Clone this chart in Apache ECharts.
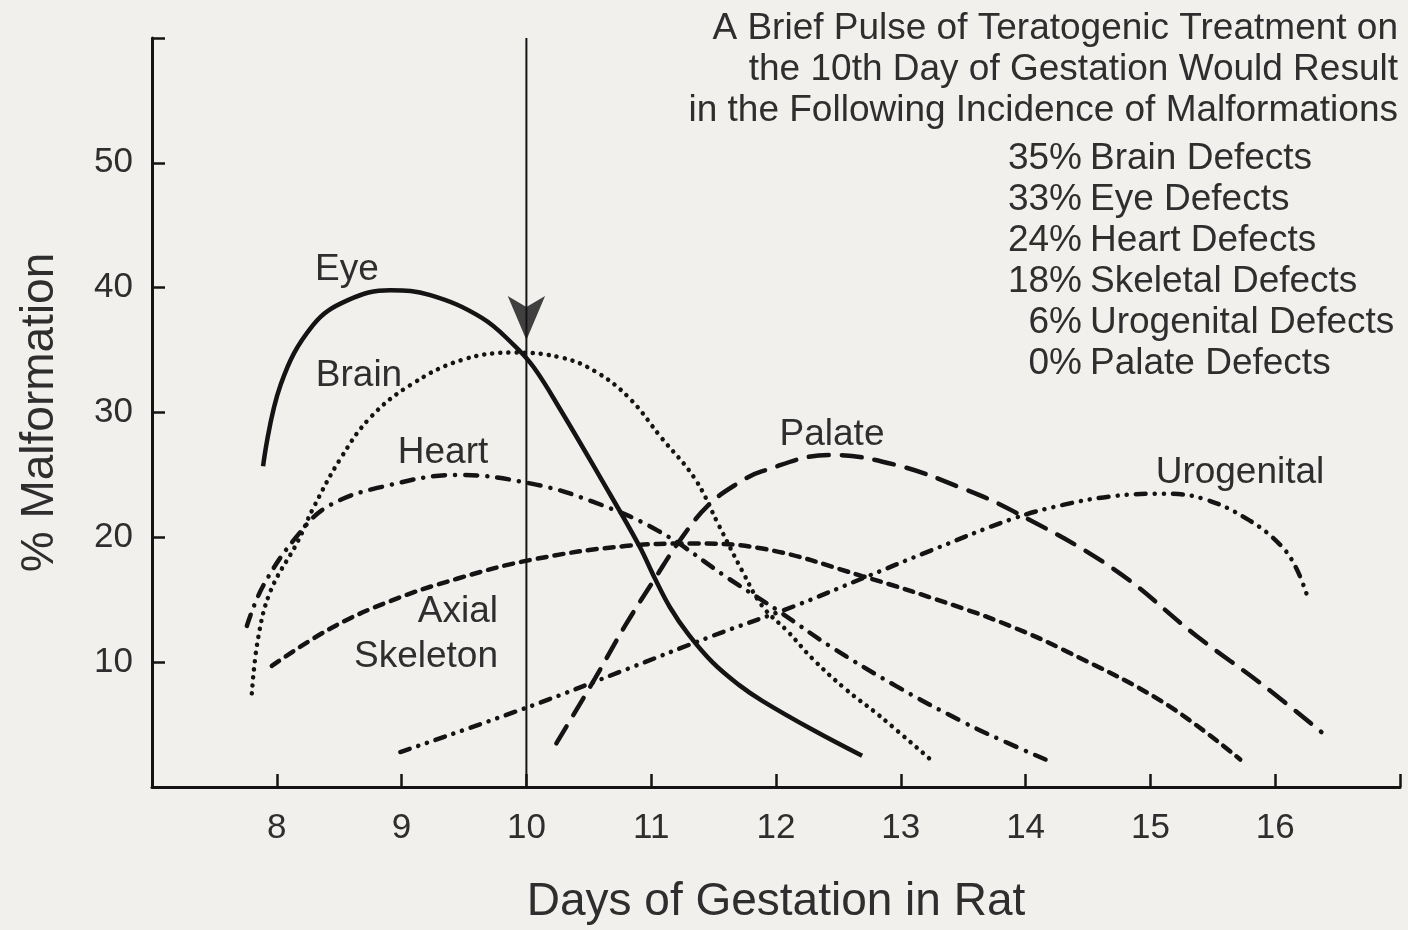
<!DOCTYPE html>
<html lang="en">
<head>
    <meta charset="UTF-8">
    <script src="https://cdn.jsdelivr.net/npm/echarts@6/dist/echarts.min.js"></script>
    <title>Teratogenic periods</title>
    <style>
        html, body { margin: 0; padding: 0; background: #f1f0ed; }
        #chart { width: 1408px; height: 930px; }
    </style>
</head>
<body>
<div id="chart"></div>
<script>
// curves: [day of gestation, % malformation]
var eye = [[7.89,25.7],[8.03,32.2],[8.29,37.0],[8.57,39.0],[8.91,39.8],[9.23,39.4],[9.64,37.6],[9.90,35.4],[10.06,33.6],
    [10.28,30.1],[10.58,25.0],[10.90,19.4],[11.03,16.7],[11.15,14.4],[11.30,12.2],[11.49,10.0],[11.70,8.2],[11.89,6.9],
    [12.29,4.6],[12.69,2.5]];
var brain = [[7.80,7.5],[7.85,11.9],[7.95,15.7],[8.17,19.7],[8.29,22.3],[8.51,26.3],[8.75,29.6],[9.07,32.2],[9.48,34.2],
    [9.90,34.8],[10.28,34.4],[10.55,33.3],[10.82,31.2],[11.08,28.0],[11.35,24.7],[11.54,21.0],[11.73,17.3],[11.89,14.5],
    [12.10,12.4],[12.29,10.3],[12.55,7.9],[12.83,5.7],[13.25,2.1]];
var heart = [[7.76,12.9],[7.89,16.1],[8.17,20.2],[8.43,22.6],[8.91,24.2],[9.45,25.0],[10.04,24.3],[10.52,22.9],[11.06,20.5],
    [11.62,16.7],[12.02,14.1],[12.43,11.3],[12.96,8.1],[13.50,5.2],[13.84,3.6],[14.16,2.2]];
var skeleton = [[7.96,9.7],[8.43,12.7],[8.91,14.9],[9.45,16.7],[10.04,18.2],[10.79,19.3],[11.32,19.5],[11.89,19.1],
    [12.69,16.9],[13.50,14.3],[13.90,12.8],[14.30,11.0],[15.10,6.8],[15.72,2.2]];
var palate = [[10.24,3.5],[10.55,8.7],[10.79,12.9],[11.03,16.7],[11.24,19.9],[11.46,22.6],[11.69,24.3],[11.89,25.3],
    [12.43,26.6],[12.96,25.8],[13.50,23.9],[13.90,22.1],[14.70,17.5],[15.37,12.1],[15.91,8.1],[16.37,4.4]];
var urogenital = [[8.99,2.8],[10.04,6.5],[10.82,9.5],[11.49,12.1],[12.15,14.5],[12.69,16.7],[13.23,18.9],[13.90,21.5],
    [14.30,22.6],[14.70,23.3],[15.10,23.5],[15.42,23.1],[15.77,21.5],[16.04,19.4],[16.17,17.5],[16.27,14.9]];

var treatmentDay = 10;
var arrowTipPct = 35.8;
var dayTicks = [8, 9, 10, 11, 12, 13, 14, 15, 16];
var pctTicks = [10, 20, 30, 40, 50];

var titleLines = ['A Brief Pulse of Teratogenic Treatment on', 'the 10th Day of Gestation Would Result', 'in the Following Incidence of Malformations'];
var defectPct = [35, 33, 24, 18, 6, 0];
var defectNames = ['Brain', 'Eye', 'Heart', 'Skeletal', 'Urogenital', 'Palate'];

var ink = '#141414';
var textInk = '#2e2e2e';
var font = '"Liberation Sans", Arial, sans-serif';

function curve(name, data, dash) {
    return {
        name: name,
        type: 'line',
        data: data,
        smooth: 0.4,
        showSymbol: false,
        silent: true,
        lineStyle: { color: ink, width: 4.5, type: dash, cap: dash === 'solid' ? 'butt' : 'round' }
    };
}

function label(text, x, y, align) {
    return { type: 'text', x: x, y: y, style: { text: text, align: align || 'center', verticalAlign: 'middle',
        font: '37px ' + font, lineHeight: 45, fill: textInk } };
}

var chart = echarts.init(document.getElementById('chart'));
var option = {
    backgroundColor: '#f1f0ed',
    animation: false,
    grid: { left: 152, right: 8, top: 38, bottom: 142 },
    xAxis: {
        type: 'value', min: 7, max: 17, interval: 1,
        name: 'Days of Gestation in Rat', nameLocation: 'middle', nameGap: 92,
        nameTextStyle: { fontFamily: font, fontSize: 46, color: textInk },
        axisLine: { lineStyle: { color: ink, width: 3 } },
        axisTick: { inside: true, length: 13, lineStyle: { color: ink, width: 2.5 } },
        axisLabel: {
            margin: 24, fontFamily: font, fontSize: 35, color: textInk,
            formatter: function (v) { return dayTicks.indexOf(v) >= 0 ? String(v) : ''; }
        },
        splitLine: { show: false }
    },
    yAxis: {
        type: 'value', min: 0, max: 60, interval: 10,
        name: '% Malformation', nameLocation: 'middle', nameGap: 89,
        nameTextStyle: { fontFamily: font, fontSize: 46, color: textInk },
        axisLine: { lineStyle: { color: ink, width: 3 } },
        axisTick: { inside: true, length: 13, lineStyle: { color: ink, width: 2.5 } },
        axisLabel: {
            margin: 19, fontFamily: font, fontSize: 35, color: textInk,
            formatter: function (v) { return pctTicks.indexOf(v) >= 0 ? String(v) : ''; }
        },
        splitLine: { show: false }
    },
    series: [
        curve('Eye', eye, 'solid'),
        curve('Brain', brain, [0.1, 8]),
        curve('Heart', heart, [12, 10, 0.1, 10]),
        curve('Axial Skeleton', skeleton, [9, 8]),
        curve('Palate', palate, [20, 13]),
        curve('Urogenital', urogenital, [10, 9, 0.1, 9, 0.1, 9]),
        {
            name: 'Treatment',
            type: 'line',
            data: [[treatmentDay, 0], [treatmentDay, 60]],
            showSymbol: false,
            silent: true,
            lineStyle: { color: ink, width: 2 }
        },
        {
            name: 'Arrow',
            type: 'scatter',
            data: [[treatmentDay, arrowTipPct]],
            symbol: 'arrow',
            symbolSize: [28, 44],
            symbolRotate: 180,
            silent: true,
            itemStyle: { color: ink }
        }
    ],
    graphic: [
        { type: 'text', x: 1398, y: 8, style: { text: titleLines.join('\n'), align: 'right', verticalAlign: 'top',
            font: '37px ' + font, lineHeight: 41, fill: textInk } },
        { type: 'text', x: 1082, y: 138, style: { text: defectPct.map(function (p) { return p + '%'; }).join('\n'),
            align: 'right', verticalAlign: 'top', font: '37px ' + font, lineHeight: 41, fill: textInk } },
        { type: 'text', x: 1090, y: 138, style: { text: defectNames.map(function (n) { return n + ' Defects'; }).join('\n'),
            align: 'left', verticalAlign: 'top', font: '37px ' + font, lineHeight: 41, fill: textInk } },
        label('Eye', 347, 270),
        label('Brain', 359, 376),
        label('Heart', 443, 453),
        label('Axial\nSkeleton', 498, 634, 'right'),
        label('Palate', 832, 435),
        label('Urogenital', 1240, 473)
    ]
};
chart.setOption(option);
</script>
</body>
</html>
